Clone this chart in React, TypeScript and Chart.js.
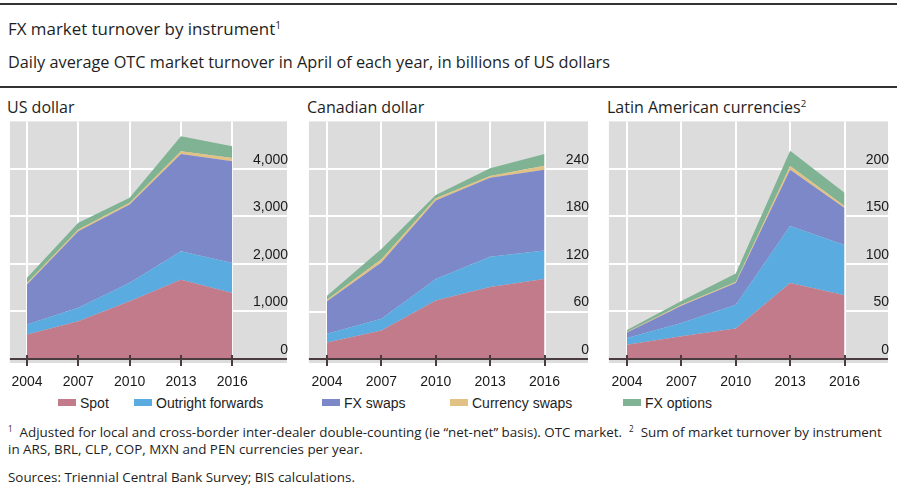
import React, { useEffect, useRef } from "react";
import { Chart, registerables } from "chart.js";

Chart.register(...registerables);

const years = [2004, 2007, 2010, 2013, 2016];
const seriesNames = ["Spot", "Outright forwards", "FX swaps", "Currency swaps", "FX options"];
const seriesColors = ["#c27b8b", "#5aabe0", "#7d88c9", "#e2c184", "#7fb394"];

// US dollar, billions of USD
const usdSpot = [516, 796, 1217, 1670, 1390];
const usdOutright = [210, 282, 387, 597, 631];
const usdFxSwaps = [842, 1613, 1649, 2049, 2140];
const usdCurrencySwaps = [32, 35, 37, 56, 71];
const usdOptions = [109, 141, 104, 316, 245];
const usdTicks = [0, 1000, 2000, 3000, 4000];

// Canadian dollar
const cadSpot = [21, 36, 74, 91, 101];
const cadOutright = [11, 15, 27, 38, 36];
const cadFxSwaps = [41, 71, 99, 100, 102];
const cadCurrencySwaps = [2, 4, 3, 2, 5];
const cadOptions = [5, 13, 4, 10, 15];
const cadTicks = [0, 60, 120, 180, 240];

// Latin American currencies
const latSpot = [15, 24, 32, 80, 67];
const latOutright = [7, 14, 25, 60, 53];
const latFxSwaps = [6, 18, 23, 59, 39];
const latCurrencySwaps = [0.4, 1, 1, 4, 2];
const latOptions = [2, 4, 9, 16, 14];
const latTicks = [0, 50, 100, 150, 200];

const GRID_BG = "#dcdcdc";
const AXIS_COLOR = "#4a3b3e";

const bgPlugin = {
  id: "panelBg",
  beforeDraw(chart: any) {
    const { ctx, chartArea } = chart;
    ctx.save();
    ctx.fillStyle = GRID_BG;
    ctx.fillRect(chartArea.left, chartArea.top, chartArea.right - chartArea.left, chartArea.bottom - chartArea.top);
    ctx.restore();
  },
};

const axisPlugin = {
  id: "zeroAxis",
  afterDatasetsDraw(chart: any) {
    const { ctx, chartArea, scales } = chart;
    const y0 = scales.y.getPixelForValue(0);
    ctx.save();
    ctx.strokeStyle = AXIS_COLOR;
    ctx.lineWidth = 2;
    ctx.beginPath();
    ctx.moveTo(chartArea.left, y0);
    ctx.lineTo(chartArea.right, y0);
    ctx.stroke();
    years.forEach((yr) => {
      const x = Math.round(scales.x.getPixelForValue(yr));
      ctx.beginPath();
      ctx.moveTo(x, y0 - 4);
      ctx.lineTo(x, y0 + 7);
      ctx.stroke();
    });
    ctx.restore();
  },
};

type PanelProps = {
  series: number[][];
  ticks: number[];
  yMin: number;
  yMax: number;
  xMax: number;
  padRight: number;
  width: number;
  left: number;
};

function Panel({ series, ticks, yMin, yMax, xMax, padRight, width, left }: PanelProps) {
  const ref = useRef<HTMLCanvasElement>(null);
  useEffect(() => {
    const datasets = series.map((vals, i) => ({
      label: seriesNames[i],
      data: years.map((yr, j) => ({ x: yr, y: vals[j] })),
      backgroundColor: seriesColors[i],
      borderColor: seriesColors[i],
      borderWidth: 0,
      pointRadius: 0,
      tension: 0,
      fill: i === 0 ? "origin" : "-1",
    }));
    const chart = new Chart(ref.current!, {
      type: "line",
      data: { datasets },
      plugins: [bgPlugin, axisPlugin],
      options: {
        animation: false,
        responsive: false,
        maintainAspectRatio: false,
        layout: { padding: { top: 8, left: 7, right: padRight, bottom: 0 } },
        plugins: { legend: { display: false }, tooltip: { enabled: false } },
        scales: {
          x: {
            type: "linear",
            min: 2003,
            max: xMax,
            afterBuildTicks: (s: any) => {
              s.ticks = years.map((v) => ({ value: v }));
            },
            afterFit: (s: any) => {
              s.height = 29;
            },
            grid: { color: "#ffffff", lineWidth: 2, drawTicks: false },
            border: { display: false },
            ticks: {
              padding: 11,
              color: "#1a1a1a",
              font: { family: "'Liberation Sans', Arial, sans-serif", size: 14 },
              callback: (v: any) => String(v),
              maxRotation: 0,
              autoSkip: false,
            },
          },
          y: {
            type: "linear",
            position: "right",
            stacked: true,
            min: yMin,
            max: yMax,
            afterBuildTicks: (s: any) => {
              s.ticks = ticks.map((v) => ({ value: v }));
            },
            afterFit: (s: any) => {
              s.width = 0;
            },
            grid: { color: "#ffffff", lineWidth: 2, drawTicks: false },
            border: { display: false },
            ticks: {
              mirror: true,
              padding: 1,
              labelOffset: -9,
              color: "#1a1a1a",
              font: { family: "'Liberation Sans', Arial, sans-serif", size: 14 },
              callback: (v: any) => Number(v).toLocaleString("en-US"),
            },
          },
        },
      },
    });
    return () => chart.destroy();
  }, []);
  return (
    <canvas
      ref={ref}
      width={width}
      height={280}
      style={{ position: "absolute", left, top: 112, width, height: 280 }}
    />
  );
}

const humanist = "'Open Sans', Lato, sans-serif";
const arial = "'Liberation Sans', Arial, sans-serif";

function Text({ top, left, size, children, family = humanist }: any) {
  return (
    <div
      style={{
        position: "absolute",
        top,
        left,
        fontSize: size,
        lineHeight: `${size}px`,
        fontFamily: family,
        color: "#1e1e1e",
        whiteSpace: "nowrap",
      }}
    >
      {children}
    </div>
  );
}

function LegendItem({ left, color, label }: any) {
  return (
    <>
      <div style={{ position: "absolute", left, top: 399, width: 18, height: 7, background: color }} />
      <Text top={396} left={left + 22} size={14} family={arial}>
        {label}
      </Text>
    </>
  );
}

export default function App() {
  const supStyle = { fontSize: "0.6em", verticalAlign: "0.6em", lineHeight: 0 };
  return (
    <div style={{ position: "fixed", left: 0, top: 0, width: 897, height: 496, background: "#fff", overflow: "hidden" }}>
      <div style={{ position: "absolute", left: 0, top: 3, width: 897, height: 2, background: "#333" }} />
      <Text top={21} left={8} size={16.9}>
        FX market turnover by instrument<span style={supStyle}>1</span>
      </Text>
      <Text top={54} left={8} size={16.3}>
        Daily average OTC market turnover in April of each year, in billions of US dollars
      </Text>
      <div style={{ position: "absolute", left: 0, top: 86, width: 897, height: 2, background: "#333" }} />

      <Text top={99} left={7} size={16}>US dollar</Text>
      <Text top={99} left={307} size={16}>Canadian dollar</Text>
      <Text top={99} left={607} size={16}>
        Latin American currencies<span style={supStyle}>2</span>
      </Text>

      <Panel
        series={[usdSpot, usdOutright, usdFxSwaps, usdCurrencySwaps, usdOptions]}
        ticks={usdTicks}
        yMin={-84}
        yMax={5000}
        xMax={2019.2}
        padRight={13}
        width={300}
        left={0}
      />
      <Panel
        series={[cadSpot, cadOutright, cadFxSwaps, cadCurrencySwaps, cadOptions]}
        ticks={cadTicks}
        yMin={-5}
        yMax={300}
        xMax={2018.4}
        padRight={12}
        width={300}
        left={300}
      />
      <Panel
        series={[latSpot, latOutright, latFxSwaps, latCurrencySwaps, latOptions]}
        ticks={latTicks}
        yMin={-4.2}
        yMax={250}
        xMax={2018.4}
        padRight={9}
        width={297}
        left={600}
      />

      <LegendItem left={58} color={seriesColors[0]} label={seriesNames[0]} />
      <LegendItem left={134} color={seriesColors[1]} label={seriesNames[1]} />
      <LegendItem left={322} color={seriesColors[2]} label={seriesNames[2]} />
      <LegendItem left={450} color={seriesColors[3]} label={seriesNames[3]} />
      <LegendItem left={623} color={seriesColors[4]} label={seriesNames[4]} />

      <Text top={426} left={8} size={13.4}>
        <span style={supStyle}>1</span>&nbsp; Adjusted for local and cross-border inter-dealer double-counting (ie “net-net” basis). OTC market.&nbsp;&nbsp;
        <span style={supStyle}>2</span>&nbsp; Sum of market turnover by instrument
      </Text>
      <Text top={443} left={8} size={13.4}>
        in ARS, BRL, CLP, COP, MXN and PEN currencies per year.
      </Text>
      <Text top={471} left={8} size={13.4}>
        Sources: Triennial Central Bank Survey; BIS calculations.
      </Text>
    </div>
  );
}
